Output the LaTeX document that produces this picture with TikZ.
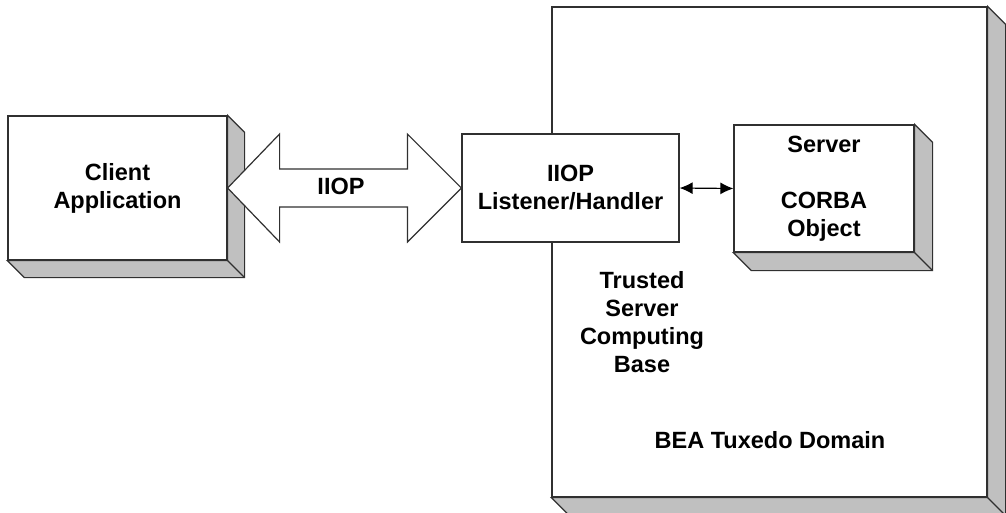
\documentclass[tikz,border=0pt]{standalone}
\usepackage{fontspec}
\setmainfont{Liberation Sans}
\usetikzlibrary{calc,positioning,arrows.meta}

\definecolor{edgegray}{HTML}{303030}
\definecolor{facegray}{HTML}{C0C0C0}

\tikzset{
  slab/.style={shape=rectangle,draw=edgegray,fill=white,line width=1.2pt,inner sep=0pt},
  face/.style={draw=edgegray,fill=facegray,line width=1.2pt,line join=miter},
  lbl/.style={font=\fontsize{23.5}{28}\selectfont\bfseries,align=center,text=black},
}

\begin{document}
\begin{tikzpicture}[x=1pt,y=-1pt]
\useasboundingbox (0,0) rectangle (1006,512);
% domain
\node[slab,minimum width=435pt,minimum height=490pt](domain) at (769.5,252) {};
\filldraw[face] (domain.north east) -- ++(18,18) -- ($(domain.south east)+(18,18)$) -- ($(domain.south west)+(18,18)$) -- (domain.south west) -- (domain.south east) -- cycle;
\draw[face] (domain.south east) -- ++(18,18);
% client
\node[slab,minimum width=219pt,minimum height=144pt](client) at (117.5,188) {};
\node[lbl](clienttxt) at (client.center) {Client\\Application};
\filldraw[face] (client.north east) -- ++(17,17) -- ($(client.south east)+(17,17)$) -- ($(client.south west)+(17,17)$) -- (client.south west) -- (client.south east) -- cycle;
\draw[face] (client.south east) -- ++(17,17);
% server
\node[slab,minimum width=180pt,minimum height=127pt](server) at (824,188.5) {};
\node[lbl](servertxt) at (server.center) {Server\\[28pt]CORBA\\Object};
\filldraw[face] (server.north east) -- ++(18,18) -- ($(server.south east)+(18,18)$) -- ($(server.south west)+(18,18)$) -- (server.south west) -- (server.south east) -- cycle;
\draw[face] (server.south east) -- ++(18,18);
% listener
\node[slab,minimum width=217pt,minimum height=108pt](listener) at (570.5,188) {};
\node[lbl](listenertxt) at (listener.center) {IIOP\\Listener/Handler};
% IIOP
\draw[draw=edgegray,fill=white,line width=1.2pt]
(client.east) -- ++(52,-54) -- ++(0,35) -- ($(listener.west)+(-54,-19)$) -- ++(0,-35)
-- (listener.west) -- ++(-54,54) -- ++(0,-35) -- ($(client.east)+(52,19)$) -- ++(0,35) -- cycle;
\node[lbl](iiop) at (341,186) {IIOP};
\draw[{Latex[length=13pt,width=12pt]}-{Latex[length=13pt,width=12pt]},draw=black,line width=1.2pt] (listener.east) -- (server.west);
\node[lbl](trusted) at (642,322) {Trusted\\Server\\Computing\\Base};
\node[lbl](domaintxt) at (770,440) {BEA Tuxedo Domain};
\end{tikzpicture}
\end{document}
